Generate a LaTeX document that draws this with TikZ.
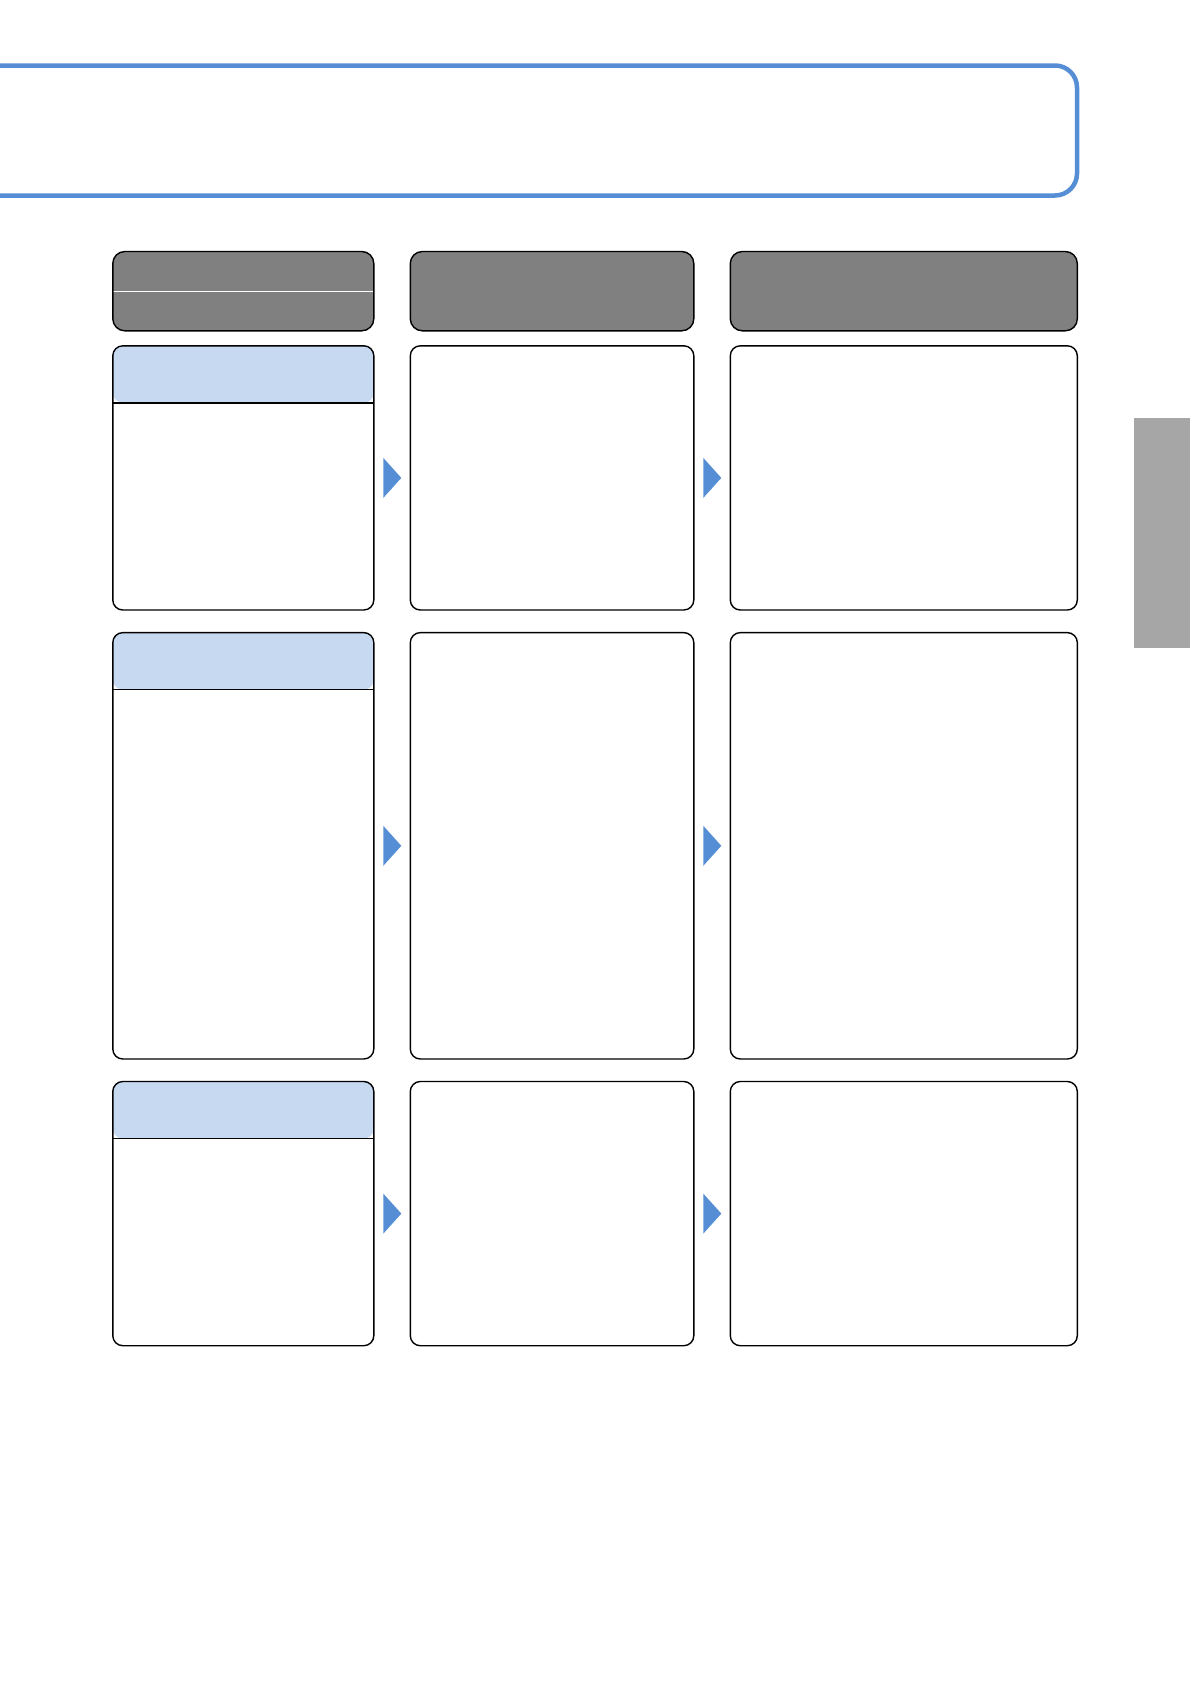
\documentclass[tikz,border=0pt]{standalone}
\usetikzlibrary{positioning}
\definecolor{frameblue}{RGB}{85,142,213}
\definecolor{hdrblue}{RGB}{198,217,241}
\definecolor{headgray}{RGB}{128,128,128}
\definecolor{tabgray}{RGB}{166,166,166}
\tikzset{
  colhead/.style={draw=black,line width=1.4pt,fill=headgray,rounded corners=12pt,
    minimum height=79.3pt,inner sep=0pt,outer sep=0pt},
  cell/.style={draw=black,line width=1.4pt,fill=white,rounded corners=10pt,inner sep=0pt,outer sep=0pt},
  topcell/.style={cell,path picture={
    \fill[hdrblue] (path picture bounding box.north west) rectangle
      ([yshift=-57pt]path picture bounding box.north east);
    \draw[line width=1.4pt] ([yshift=-57pt]path picture bounding box.north west) --
      ([yshift=-57pt]path picture bounding box.north east);}},
  pointer/.style={fill=frameblue}
}
\begin{document}
\begin{tikzpicture}[x=1pt,y=-1pt]
  \useasboundingbox[fill=white] (0,0) rectangle (1190,1684);
  \draw[frameblue,line width=4.5pt,rounded corners=22pt]
    (-10,65.5) -- (1077,65.5) -- (1077,195.5) -- (-10,195.5);
  \fill[tabgray] (1134,417.8) rectangle (1190,647.6);

  \node[colhead,minimum width=261pt,anchor=north west,
    path picture={\draw[white,line width=1pt] (path picture bounding box.west) --
      (path picture bounding box.east);}] (hd1) at (112.8,251.5) {};
  \node[colhead,minimum width=283.5pt,right=36.5pt of hd1] (hd2) {};
  \node[colhead,minimum width=347pt,right=36.5pt of hd2] (hd3) {};

  \node[topcell,minimum width=261pt,minimum height=264.2pt,anchor=north west] (c11) at (112.8,345.8) {};
  \node[cell,minimum width=283.5pt,minimum height=264.2pt,right=36.5pt of c11] (c12) {};
  \node[cell,minimum width=347pt,minimum height=264.2pt,right=36.5pt of c12] (c13) {};

  \node[topcell,minimum width=261pt,minimum height=426.4pt,below=22.6pt of c11.south west,anchor=north west] (c21) {};
  \node[cell,minimum width=283.5pt,minimum height=426.4pt,right=36.5pt of c21] (c22) {};
  \node[cell,minimum width=347pt,minimum height=426.4pt,right=36.5pt of c22] (c23) {};

  \node[topcell,minimum width=261pt,minimum height=264.2pt,below=22.5pt of c21.south west,anchor=north west] (c31) {};
  \node[cell,minimum width=283.5pt,minimum height=264.2pt,right=36.5pt of c31] (c32) {};
  \node[cell,minimum width=347pt,minimum height=264.2pt,right=36.5pt of c32] (c33) {};

  \foreach \r in {1,2,3}{
    \foreach \c in {1,2}{
      \fill[pointer] ([xshift=9.5pt,yshift=20pt]c\r\c.east) -- ([xshift=27.5pt]c\r\c.east)
        -- ([xshift=9.5pt,yshift=-20pt]c\r\c.east) -- cycle;
    }
  }
\end{tikzpicture}
\end{document}
